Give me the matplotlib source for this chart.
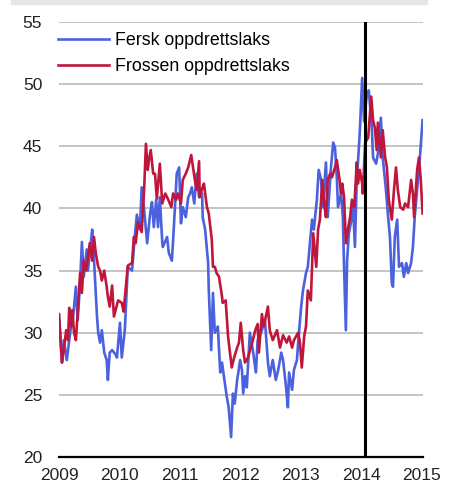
import matplotlib.pyplot as plt
from matplotlib.patches import Rectangle

plt.rcParams['font.family'] = ['Liberation Sans', 'DejaVu Sans']

# Fersk oppdrettslaks (blue)
fersk_t = [2009.00, 2009.05, 2009.08, 2009.13, 2009.17, 2009.20, 2009.23, 2009.28, 2009.31, 2009.35,
           2009.38, 2009.41, 2009.46, 2009.48, 2009.55, 2009.56, 2009.60, 2009.63, 2009.65, 2009.68,
           2009.71, 2009.75, 2009.79, 2009.81, 2009.84, 2009.88, 2009.93, 2009.96,
           2010.01, 2010.04, 2010.09, 2010.14, 2010.21, 2010.26, 2010.29, 2010.34, 2010.37, 2010.41,
           2010.46, 2010.51, 2010.54, 2010.57, 2010.61, 2010.64, 2010.67, 2010.71, 2010.72, 2010.79,
           2010.82, 2010.87, 2010.90, 2010.95, 2010.99,
           2011.02, 2011.05, 2011.10, 2011.14, 2011.17, 2011.20, 2011.24, 2011.28, 2011.32, 2011.37,
           2011.38, 2011.42, 2011.47, 2011.48, 2011.52, 2011.55, 2011.58, 2011.63, 2011.67, 2011.70,
           2011.73, 2011.78, 2011.81, 2011.85, 2011.88, 2011.91, 2011.95, 2011.96,
           2012.00, 2012.03, 2012.05, 2012.08, 2012.11, 2012.16, 2012.21, 2012.26, 2012.29, 2012.36,
           2012.41, 2012.46, 2012.49, 2012.54, 2012.59, 2012.63, 2012.68, 2012.71, 2012.76, 2012.79,
           2012.81, 2012.86, 2012.89, 2012.94, 2012.96,
           2013.01, 2013.04, 2013.09, 2013.12, 2013.16, 2013.19, 2013.22, 2013.27, 2013.30, 2013.34,
           2013.37, 2013.42, 2013.45, 2013.50, 2013.54, 2013.57, 2013.60, 2013.62, 2013.67, 2013.70,
           2013.72, 2013.75, 2013.77, 2013.80, 2013.85, 2013.87, 2013.90, 2013.93, 2013.95, 2013.98,
           2014.02, 2014.05, 2014.10, 2014.13, 2014.18, 2014.20, 2014.25, 2014.28, 2014.33, 2014.36,
           2014.41, 2014.45, 2014.48, 2014.51, 2014.53, 2014.56, 2014.60, 2014.63, 2014.68, 2014.71,
           2014.75, 2014.78, 2014.83, 2014.86, 2014.89, 2014.93, 2014.98, 2015.02]
fersk = [31.4, 27.6, 29.4, 27.8, 29.4, 30.5, 31.0, 33.7, 31.0, 34.0,
         37.3, 34.5, 36.7, 35.0, 38.3, 37.7, 34.0, 31.3, 30.0, 29.2,
         30.2, 28.4, 27.8, 26.2, 28.4, 28.6, 28.3, 28.0,
         30.8, 28.0, 30.2, 35.3, 35.0, 38.0, 39.5, 38.3, 41.7, 39.9,
         37.2, 39.6, 40.5, 38.5, 40.7, 38.5, 40.9, 37.3, 36.9, 37.7,
         36.4, 35.8, 38.3, 42.8, 43.3,
         38.8, 40.1, 39.3, 40.9, 41.2, 41.7, 40.4, 42.8, 40.9, 41.2,
         39.3, 38.3, 35.6, 33.5, 28.6, 33.2, 30.0, 30.5, 26.8, 27.6,
         26.5, 24.8, 24.0, 21.6, 25.1, 24.3, 26.2, 26.5,
         27.8, 27.0, 25.1, 26.5, 25.6, 30.0, 28.6, 26.8, 29.4, 30.2,
         31.0, 27.6, 26.5, 27.8, 26.2, 27.0, 28.4, 27.8, 25.6, 24.0,
         26.8, 25.4, 27.0, 27.8, 29.2,
         32.1, 33.4, 34.8, 35.3, 37.5, 39.1, 38.3, 40.7, 43.1, 42.3,
         40.1, 43.7, 39.3, 43.1, 45.3, 44.9, 42.5, 40.1, 41.2, 39.3,
         35.3, 30.2, 35.8, 38.0, 39.3, 40.1, 36.9, 42.3, 43.7, 46.1,
         50.5, 47.0, 49.3, 49.5, 46.5, 44.1, 43.6, 44.4, 47.3, 44.1,
         41.7, 39.3, 37.7, 34.0, 33.7, 37.7, 39.1, 35.3, 35.6, 34.5,
         35.6, 34.8, 35.6, 36.9, 39.3, 41.5, 44.4, 47.1]

# Frossen oppdrettslaks (red)
frossen_t = [2009.00, 2009.05, 2009.08, 2009.12, 2009.15, 2009.17, 2009.20, 2009.22, 2009.25, 2009.28,
             2009.31, 2009.35, 2009.38, 2009.41, 2009.45, 2009.48, 2009.51, 2009.55, 2009.58, 2009.61,
             2009.65, 2009.68, 2009.71, 2009.75, 2009.79, 2009.81, 2009.84, 2009.88, 2009.91, 2009.98,
             2010.04, 2010.07, 2010.14, 2010.21, 2010.24, 2010.27, 2010.31, 2010.37, 2010.41, 2010.44,
             2010.47, 2010.49, 2010.52, 2010.56, 2010.59, 2010.62, 2010.67, 2010.71, 2010.76, 2010.81,
             2010.86, 2010.89, 2010.94, 2010.97,
             2011.02, 2011.05, 2011.10, 2011.14, 2011.19, 2011.22, 2011.25, 2011.28, 2011.32, 2011.33,
             2011.37, 2011.40, 2011.45, 2011.48, 2011.53, 2011.55, 2011.58, 2011.61, 2011.65, 2011.70,
             2011.71, 2011.76, 2011.80, 2011.86, 2011.90, 2011.95, 2011.98,
             2012.01, 2012.05, 2012.08, 2012.13, 2012.20, 2012.25, 2012.29, 2012.31, 2012.36, 2012.39,
             2012.46, 2012.49, 2012.54, 2012.61, 2012.66, 2012.71, 2012.77, 2012.81, 2012.86, 2012.89,
             2012.96, 2012.99,
             2013.02, 2013.06, 2013.09, 2013.12, 2013.17, 2013.21, 2013.26, 2013.29, 2013.32, 2013.36,
             2013.39, 2013.42, 2013.45, 2013.49, 2013.52, 2013.57, 2013.60, 2013.64, 2013.67, 2013.69,
             2013.72, 2013.75, 2013.79, 2013.82, 2013.85, 2013.89, 2013.93, 2013.95, 2013.98,
             2014.02, 2014.03, 2014.07, 2014.12, 2014.17, 2014.20, 2014.23, 2014.26, 2014.28, 2014.33,
             2014.36, 2014.40, 2014.43, 2014.46, 2014.51, 2014.55, 2014.58, 2014.61, 2014.65, 2014.70,
             2014.73, 2014.78, 2014.83, 2014.86, 2014.88, 2014.93, 2014.96, 2014.99, 2015.02]
frossen = [31.5, 27.6, 28.6, 30.2, 29.4, 32.0, 30.5, 31.8, 30.0, 29.4,
           31.6, 34.8, 33.2, 35.8, 35.0, 36.1, 37.2, 35.8, 37.7, 36.4,
           35.3, 35.0, 34.2, 35.0, 33.7, 32.9, 32.1, 33.8, 31.3, 32.6,
           32.4, 31.7, 35.4, 35.6, 37.7, 37.2, 38.9, 38.1, 41.5, 45.2,
           43.1, 43.9, 44.7, 42.8, 42.8, 40.8, 43.6, 40.4, 41.2, 40.7,
           40.1, 41.2, 40.7, 41.2,
           40.4, 42.3, 42.8, 43.3, 44.3, 43.3, 42.3, 41.5, 43.8, 40.9,
           41.6, 42.0, 40.1, 39.6, 37.5, 35.3, 35.3, 34.8, 34.5, 32.9,
           32.4, 32.6, 29.7, 27.2, 28.0, 28.8, 29.2,
           30.8, 28.6, 27.6, 28.0, 29.2, 30.2, 30.7, 28.4, 31.5, 30.5,
           32.1, 30.2, 29.4, 30.2, 28.8, 29.8, 29.2, 29.7, 28.8, 29.4,
           30.0, 29.2,
           27.2, 29.7, 30.5, 33.4, 32.6, 38.0, 35.3, 38.3, 39.1, 42.3,
           40.4, 39.3, 42.3, 42.8, 42.5, 43.3, 43.9, 42.5, 41.2, 42.0,
           40.9, 37.2, 38.5, 39.3, 40.7, 40.1, 43.7, 42.0, 43.1,
           42.0, 41.2, 45.3, 45.7, 49.0, 47.1, 46.5, 44.7, 46.9, 44.1,
           46.3, 44.1, 43.3, 40.7, 39.1, 41.7, 43.3, 41.5, 40.1, 39.9,
           40.4, 40.1, 42.3, 41.2, 39.3, 43.1, 44.1, 42.3, 39.6]

years = [2009, 2010, 2011, 2012, 2013, 2014, 2015]
yticks = [20, 25, 30, 35, 40, 45, 50, 55]
marker_line = 2014.07

fig = plt.figure(figsize=(4.57, 4.86), dpi=100)
fig.patches.append(Rectangle((0.024, 0.992), 0.91, 0.008, transform=fig.transFigure,
                             color='#e6e6e6', zorder=0))
ax = fig.add_axes([0.129, 0.0597, 0.797, 0.895])

ax.plot(fersk_t, fersk, color='#4b61dd', lw=1.9, label='Fersk oppdrettslaks')
ax.plot(frossen_t, frossen, color='#c0163c', lw=1.9, label='Frossen oppdrettslaks')
ax.axvline(marker_line, color='black', lw=2.2, zorder=5)

ax.set_xlim(2009, 2015.03)
ax.set_ylim(20, 55)
ax.set_xticks(years)
ax.set_yticks(yticks)
ax.yaxis.grid(True, color='#b4b4b4', lw=1.1)
ax.set_axisbelow(True)
for s in ['top', 'right', 'left']:
    ax.spines[s].set_visible(False)
ax.spines['bottom'].set_linewidth(1.6)
ax.tick_params(axis='both', length=0, labelsize=12.5, colors='#222222')
ax.tick_params(axis='y', pad=12)
ax.tick_params(axis='x', pad=8)

ax.legend(loc='upper left', bbox_to_anchor=(-0.003, 0.977), frameon=False, fontsize=12.8,
          handlelength=2.9, handletextpad=0.3, labelspacing=0.5, borderpad=0, borderaxespad=0)

fig.savefig('out.png', dpi=100)
